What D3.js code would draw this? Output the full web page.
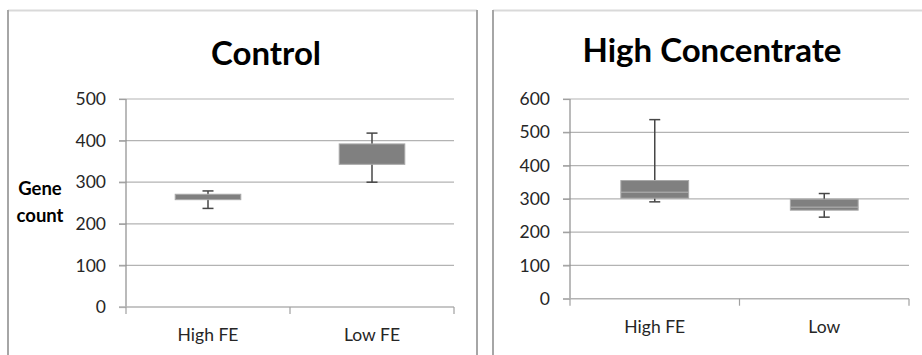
<!DOCTYPE html>
<html>
<head>
<meta charset="utf-8">
<script src="https://cdn.jsdelivr.net/npm/d3@7"></script>
<style>
  html, body { margin: 0; padding: 0; background: #fff; }
  svg { display: block; }
  text { font-family: Lato, "Open Sans", sans-serif; }
</style>
</head>
<body>
<svg id="chart" width="922" height="355"></svg>
<script>
// ---- data ----
const controlTitle = "Control";
const controlCategories = ["High FE", "Low FE"];
const controlMin    = [237, 300];
const controlQ1     = [258, 343];
const controlMedian = [null, null];
const controlQ3     = [271, 392];
const controlMax    = [279, 418];
const controlTicks  = [0, 100, 200, 300, 400, 500];

const hcTitle = "High Concentrate";
const hcCategories = ["High FE", "Low"];
const hcMin    = [291, 245];
const hcQ1     = [302, 266];
const hcMedian = [320, 275];
const hcQ3     = [355, 299];
const hcMax    = [538, 316];
const hcTicks  = [0, 100, 200, 300, 400, 500, 600];

const yAxisTitle = ["Gene", "count"];

// ---- layout ----
const svg = d3.select("#chart");

const panels = [
  { title: controlTitle, cats: controlCategories, min: controlMin, q1: controlQ1, med: controlMedian,
    q3: controlQ3, max: controlMax, ticks: controlTicks,
    x0: 126, x1: 454, yTop: 99, yBot: 307, titleX: 266, titleY: 65,
    frame: { left: 8, right: 477 } },
  { title: hcTitle, cats: hcCategories, min: hcMin, q1: hcQ1, med: hcMedian,
    q3: hcQ3, max: hcMax, ticks: hcTicks,
    x0: 570, x1: 909, yTop: 99, yBot: 298.7, titleX: 712, titleY: 62,
    frame: { left: 493, right: 923 } }
];

panels.forEach(p => {
  // frame
  const f = svg.append("g");
  f.append("line").attr("x1", p.frame.left).attr("x2", p.frame.right)
    .attr("y1", 10.5).attr("y2", 10.5).attr("stroke", "#d9d9d9").attr("stroke-width", 2);
  f.append("line").attr("x1", p.frame.left).attr("x2", p.frame.left)
    .attr("y1", 10).attr("y2", 360).attr("stroke", "#a6a6a6").attr("stroke-width", 2);
  if (p.frame.right < 922) {
    f.append("line").attr("x1", p.frame.right).attr("x2", p.frame.right)
      .attr("y1", 10).attr("y2", 360).attr("stroke", "#a6a6a6").attr("stroke-width", 2);
  }

  const yMax = p.ticks[p.ticks.length - 1];
  const y = d3.scaleLinear().domain([0, yMax]).range([p.yBot, p.yTop]);
  const x = d3.scaleBand().domain(p.cats).range([p.x0, p.x1]).paddingInner(0).paddingOuter(0);

  const g = svg.append("g");

  // gridlines
  g.append("g").selectAll("line").data(p.ticks.filter(t => t > 0)).join("line")
    .attr("x1", p.x0 - 7).attr("x2", p.x1)
    .attr("y1", d => y(d)).attr("y2", d => y(d))
    .attr("stroke", "#b3b3b3").attr("stroke-width", 1.2);

  // y axis
  const yAxis = d3.axisLeft(y).tickValues(p.ticks).tickSize(7).tickPadding(13);
  const ya = g.append("g").attr("transform", `translate(${p.x0},0)`).call(yAxis);
  ya.select(".domain").attr("stroke", "#8c8c8c").attr("stroke-width", 1.2)
    .attr("d", `M0,${p.yTop}V${p.yBot}`);
  ya.selectAll(".tick line").attr("stroke", "#a0a0a0").attr("stroke-width", 1.2);
  ya.selectAll(".tick text").attr("font-size", 17.5).attr("fill", "#262626")
    .attr("font-family", "Lato, sans-serif");

  // x axis
  const xa = g.append("g").attr("transform", `translate(0,${p.yBot})`);
  xa.append("line").attr("x1", p.x0 - 7).attr("x2", p.x1).attr("y1", 0).attr("y2", 0)
    .attr("stroke", "#b3b3b3").attr("stroke-width", 1.4);
  const edges = [p.x0].concat(p.cats.map(c => x(c) + x.bandwidth()));
  xa.selectAll("line.xt").data(edges).join("line").attr("class", "xt")
    .attr("x1", d => d).attr("x2", d => d).attr("y1", 0).attr("y2", 7)
    .attr("stroke", "#a0a0a0").attr("stroke-width", 1.2);
  xa.selectAll("text.xl").data(p.cats).join("text").attr("class", "xl")
    .attr("x", d => x(d) + x.bandwidth() / 2).attr("y", 34)
    .attr("text-anchor", "middle").attr("font-size", 17.5).attr("fill", "#262626")
    .text(d => d);

  // boxes
  const boxW = x.bandwidth() * 0.4;
  const idx = d3.range(p.cats.length);
  const capW = 11;
  const marks = g.append("g");
  // whiskers (behind box)
  marks.selectAll("line.wh").data(idx).join("line").attr("class", "wh")
    .attr("x1", i => x(p.cats[i]) + x.bandwidth() / 2).attr("x2", i => x(p.cats[i]) + x.bandwidth() / 2)
    .attr("y1", i => y(p.min[i])).attr("y2", i => y(p.max[i]))
    .attr("stroke", "#474747").attr("stroke-width", 1.5);
  ["min", "max"].forEach(k => {
    marks.selectAll("line.cap-" + k).data(idx).join("line").attr("class", "cap-" + k)
      .attr("x1", i => x(p.cats[i]) + x.bandwidth() / 2 - capW / 2)
      .attr("x2", i => x(p.cats[i]) + x.bandwidth() / 2 + capW / 2)
      .attr("y1", i => y(p[k][i])).attr("y2", i => y(p[k][i]))
      .attr("stroke", "#474747").attr("stroke-width", 1.5);
  });
  marks.selectAll("rect.box").data(idx).join("rect").attr("class", "box")
    .attr("x", i => x(p.cats[i]) + (x.bandwidth() - boxW) / 2)
    .attr("width", boxW)
    .attr("y", i => y(p.q3[i]))
    .attr("height", i => y(p.q1[i]) - y(p.q3[i]))
    .attr("fill", "#808080").attr("stroke", "#a8a8a8").attr("stroke-width", 1);
  marks.selectAll("line.med").data(idx.filter(i => p.med[i] != null)).join("line").attr("class", "med")
    .attr("x1", i => x(p.cats[i]) + (x.bandwidth() - boxW) / 2)
    .attr("x2", i => x(p.cats[i]) + (x.bandwidth() + boxW) / 2)
    .attr("y1", i => y(p.med[i])).attr("y2", i => y(p.med[i]))
    .attr("stroke", "#b5b5b5").attr("stroke-width", 1);

  // title
  svg.append("text").attr("x", p.titleX).attr("y", p.titleY)
    .attr("text-anchor", "middle").attr("font-size", 33).attr("font-weight", "bold")
    .attr("fill", "#000").text(p.title);
});

// y axis title on left panel
svg.append("g").selectAll("text").data(yAxisTitle).join("text")
  .attr("x", 40).attr("y", (d, i) => 195 + i * 27)
  .attr("text-anchor", "middle").attr("font-size", 18.5).attr("font-weight", "bold")
  .attr("fill", "#000").text(d => d);
</script>
</body>
</html>
